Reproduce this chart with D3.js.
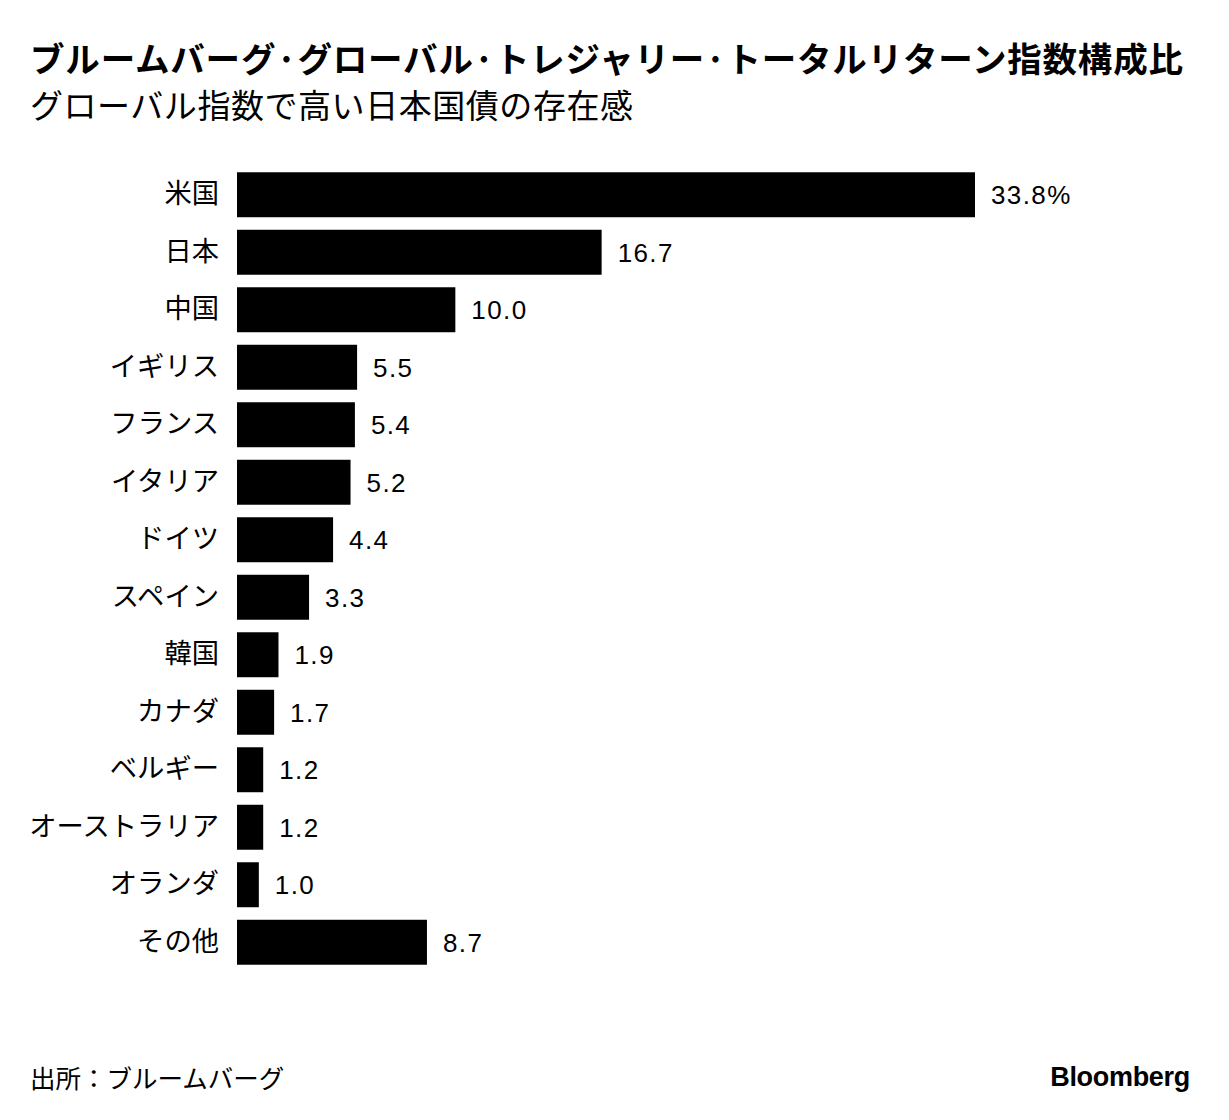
<!DOCTYPE html>
<html>
<head>
<meta charset="utf-8">
<script src="https://cdn.jsdelivr.net/npm/d3@7"></script>
<style>
  body { margin: 0; background: #fff; }
  text { font-family: "Noto Sans CJK JP", sans-serif; }
</style>
</head>
<body>
<div id="canvas"></div>
<script>
// shares of the index, percent
const countries = ["米国", "日本", "中国", "イギリス", "フランス", "イタリア", "ドイツ",
  "スペイン", "韓国", "カナダ", "ベルギー", "オーストラリア", "オランダ", "その他"];
const shares = [33.8, 16.7, 10.0, 5.5, 5.4, 5.2, 4.4, 3.3, 1.9, 1.7, 1.2, 1.2, 1.0, 8.7];

const title = "ブルームバーグ·グローバル·トレジャリー·トータルリターン指数構成比";
const subtitle = "グローバル指数で高い日本国債の存在感";
const source = "出所：ブルームバーグ";

const width = 1229;
const height = 1120;
const margin = { top: 166, left: 237, bottom: 149, right: 254 };

const svg = d3.select("#canvas").append("svg")
  .attr("width", width)
  .attr("height", height);

svg.append("text")
  .attr("x", 30).attr("y", 72)
  .style("font-size", "34.5px").style("font-weight", "bold")
  .attr("textLength", 1153)
  .attr("lengthAdjust", "spacing")
  .text(title);

svg.append("text")
  .attr("x", 30).attr("y", 118)
  .style("font-size", "33px")
  .attr("textLength", 603)
  .attr("lengthAdjust", "spacing")
  .text(subtitle);

const data = countries.map((c, i) => ({ name: c, value: shares[i] }));

const x = d3.scaleLinear()
  .domain([0, 33.8])
  .range([margin.left, width - margin.right]);

const y = d3.scaleBand()
  .domain(countries)
  .range([margin.top, height - margin.bottom])
  .paddingInner(0.218)
  .paddingOuter(0.109);

svg.selectAll("rect.bar").data(data).enter().append("rect")
  .attr("class", "bar")
  .attr("x", x(0))
  .attr("y", d => y(d.name))
  .attr("width", d => x(d.value) - x(0))
  .attr("height", y.bandwidth())
  .style("fill", "#000");

svg.selectAll("text.label").data(data).enter().append("text")
  .attr("class", "label")
  .attr("x", x(0) - 18)
  .attr("y", d => y(d.name) + y.bandwidth() / 2 - 1)
  .attr("dy", "0.35em")
  .attr("text-anchor", "end")
  .style("font-size", "27.3px")
  .text(d => d.name);

svg.selectAll("text.value").data(data).enter().append("text")
  .attr("class", "value")
  .attr("x", d => x(d.value) + 16)
  .attr("y", d => y(d.name) + y.bandwidth() / 2)
  .attr("dy", "0.36em")
  .style("font-family", "'Liberation Sans', sans-serif")
  .style("font-size", "26px")
  .style("letter-spacing", "1.4px")
  .text((d, i) => d.value.toFixed(1) + (i === 0 ? "%" : ""));

svg.append("text")
  .attr("x", 30).attr("y", 1088)
  .style("font-size", "25.5px")
  .text(source);

svg.append("text")
  .attr("x", 1190).attr("y", 1086)
  .attr("text-anchor", "end")
  .style("font-family", "'Liberation Sans', sans-serif")
  .style("font-size", "27px").style("font-weight", "bold")
  .style("letter-spacing", "-0.3px")
  .text("Bloomberg");
</script>
</body>
</html>
